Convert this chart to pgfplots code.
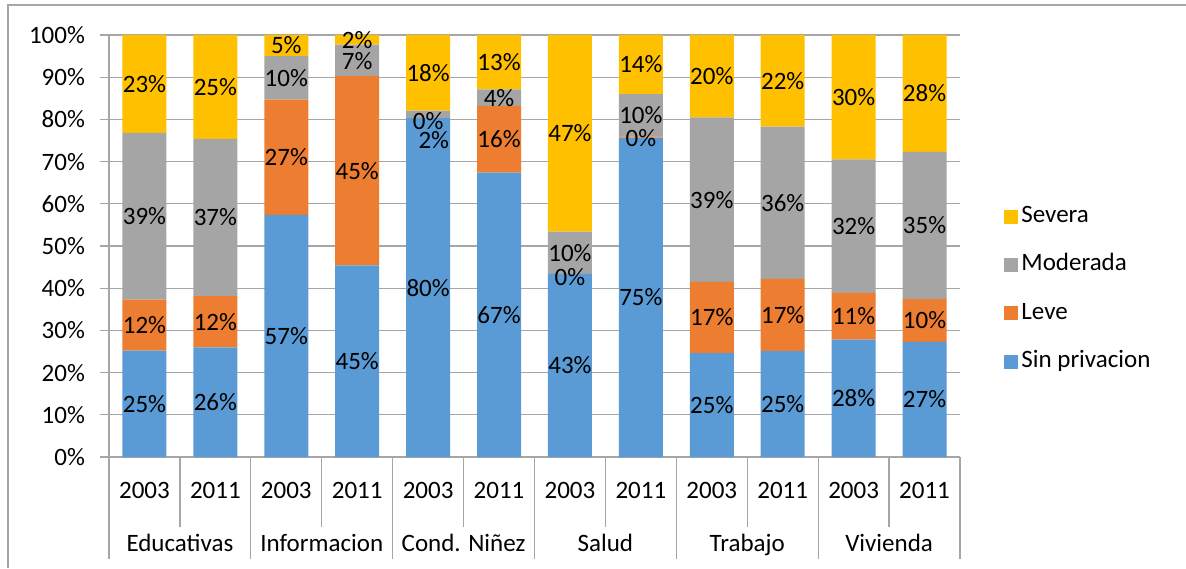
\documentclass[border=0pt]{standalone}
\usepackage{pgfplots}
\pgfplotsset{compat=1.18}
\usepackage{pgfplotstable}
\usepackage{fontspec}
\setmainfont{Carlito}

\definecolor{csin}{HTML}{5B9BD5}
\definecolor{cleve}{HTML}{ED7D31}
\definecolor{cmod}{HTML}{A5A5A5}
\definecolor{csev}{HTML}{FFC000}
\definecolor{gridc}{HTML}{A6A6A6}
\newcommand{\lbl}{\fontsize{12.5}{15}\selectfont}

% share of each level of deprivation, per dimension and year
\pgfplotstableread{
x  sin   leve  mod   sev
0  25.2  12.1  39.5  23.2
1  26.0  12.1  37.3  24.6
2  57.4  27.3  10.3  5.0
3  45.4  44.9  7.4   2.3
4  80.3  0.0   1.8   17.9
5  67.4  15.8  3.9   12.9
6  43.4  0.0   10.0  46.6
7  75.7  0.3   10.0  14.0
8  24.6  16.9  39.0  19.5
9  25.1  17.1  36.1  21.7
10 27.8  11.1  31.6  29.5
11 27.3  10.1  34.9  27.7
}\data

% data labels: x, y of label centre, text
\pgfplotstableread{
x    y      lab
0    12.6   25
0    31.25  12
0    57.05  39
0    88.4   23
1    13.0   26
1    32.05  12
1    56.75  37
1    87.7   25
2    28.7   57
2    71.05  27
2    89.85  10
2    97.5   5
3    22.7   45
3    67.85  45
3    93.8   7
3    98.8   2
4    40.15  80
4.08 75.0   2
4    79.7   0
4    91.05  18
5    33.7   67
5    75.3   16
5    85.15  4
5    93.55  13
6    21.7   43
6    42.7   0
6    48.4   10
6    76.7   47
7    37.85  75
7    75.5   0
7    81.0   10
7    93.0   14
8    12.3   25
8    33.05  17
8    61.0   39
8    90.25  20
9    12.55  25
9    33.65  17
9    60.25  36
9    89.15  22
10   13.9   28
10   33.35  11
10   54.7   32
10   85.25  30
11   13.65  27
11   32.35  10
11   54.85  35
11   86.15  28
}\labels

\pgfplotsset{base/.style={
    scale only axis, width=425.5pt, height=211pt,
    at={(0,0)}, anchor=south west,
    xmin=-0.5, xmax=11.5, ymin=0, ymax=100, clip=false}}
\tikzset{cat/.style={font=\lbl, text height=9pt, text depth=3pt, inner sep=0pt}}

\begin{document}
\begin{tikzpicture}
\useasboundingbox (-54.5pt,-55.5pt) rectangle (538.5pt,228.5pt);
\draw[gridc, line width=0.6pt] (-50.5pt,-55.5pt) -- (-50.5pt,226pt) -- (538.5pt,226pt);

\begin{axis}[base,
    ybar stacked, bar width=22pt,
    axis x line*=bottom, axis y line*=left,
    axis line style={gridc, line width=0.6pt},
    xtick=\empty,
    ytick={0,10,...,100},
    yticklabels={0\%,10\%,20\%,30\%,40\%,50\%,60\%,70\%,80\%,90\%,100\%},
    yticklabel style={font=\lbl, xshift=-4pt},
    ymajorgrids, grid style={gridc, line width=0.6pt},
    tick align=outside, major tick length=4.5pt,
    tick style={gridc, line width=0.6pt},
    reverse legend,
    legend style={at={(1.0517,0.3977)}, anchor=west, draw=none, fill=none,
        inner sep=0pt, font=\lbl, row sep=9.2pt,
        nodes={inner sep=1.5pt, text height=9pt, text depth=3pt}},
    legend cell align=left,
    legend image code/.code={\fill[#1] (0pt,-3.5pt) rectangle (7pt,3.5pt);},
]
\addplot[fill=csin, draw=none] table[x=x, y=sin] {\data};
\addlegendentry{Sin privacion}
\addplot[fill=cleve, draw=none] table[x=x, y=leve] {\data};
\addlegendentry{Leve}
\addplot[fill=cmod, draw=none] table[x=x, y=mod] {\data};
\addlegendentry{Moderada}
\addplot[fill=csev, draw=none] table[x=x, y=sev] {\data};
\addlegendentry{Severa}
\end{axis}

\begin{axis}[base, hide axis]
\addplot[only marks, mark=*, mark size=0pt, mark options={draw=none, fill=none},
    point meta=explicit symbolic,
    nodes near coords={\pgfplotspointmeta\%},
    every node near coord/.append style={font=\lbl, anchor=center, inner sep=0pt}]
    table[x=x, y=y, meta=lab] {\labels};

% separators below the axis
\foreach \s in {0.5,2.5,4.5,6.5,8.5,10.5}
  {\edef\tmp{\noexpand\draw[gridc, line width=0.6pt] (axis cs:\s,0) -- (axis cs:\s,-16.6);}\tmp}
\foreach \s in {-0.5,1.5,3.5,5.5,7.5,9.5,11.5}
  {\edef\tmp{\noexpand\draw[gridc, line width=0.6pt] (axis cs:\s,0) -- (axis cs:\s,-24.2);}\tmp}

\foreach \s in {0,2,4,6,8,10}
  {\edef\tmp{\noexpand\node[cat] at (axis cs:\s,-8.5) {2003};}\tmp}
\foreach \s in {1,3,5,7,9,11}
  {\edef\tmp{\noexpand\node[cat] at (axis cs:\s,-8.5) {2011};}\tmp}

\node[cat] at (axis cs:0.5,-21) {Educativas};
\node[cat] at (axis cs:2.5,-21) {Informacion};
\node[cat] at (axis cs:4.5,-21) {Cond. Niñez};
\node[cat] at (axis cs:6.5,-21) {Salud};
\node[cat] at (axis cs:8.5,-21) {Trabajo};
\node[cat] at (axis cs:10.5,-21) {Vivienda};
\end{axis}
\end{tikzpicture}
\end{document}
